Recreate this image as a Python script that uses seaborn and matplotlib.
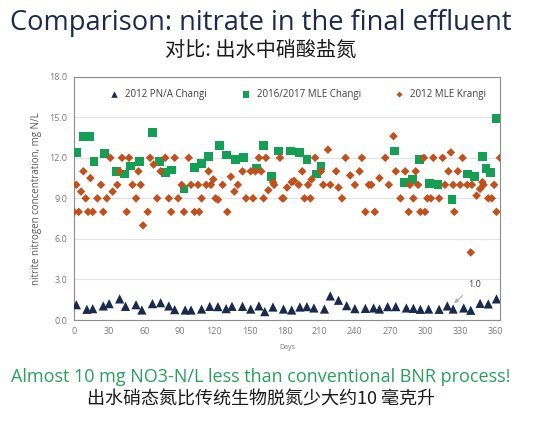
import numpy as np
import pandas as pd
import seaborn as sns
import matplotlib.pyplot as plt

# data
pna_days = [2, 11, 16, 25, 30, 39, 44, 53, 58, 67, 74, 81, 86, 95, 100, 109, 116, 123, 130, 135,
            144, 151, 158, 163, 170, 179, 186, 193, 199, 205, 214, 219, 226, 233, 240, 249, 256, 261,
            268, 275, 284, 290, 296, 303, 312, 319, 324, 333, 339, 347, 354, 361]
pna_vals = [1.13, 0.79, 0.84, 1.04, 1.21, 1.56, 1.01, 1.13, 0.74, 1.21, 1.28, 1.04, 0.77, 0.74, 0.74,
            0.81, 1.01, 0.99, 0.84, 1.01, 1.01, 0.81, 1.04, 0.62, 0.96, 0.81, 0.74, 0.96, 0.99, 0.89,
            0.81, 1.78, 1.46, 1.06, 0.84, 0.86, 0.89, 0.81, 0.99, 0.99, 0.89, 0.86, 0.79, 0.81, 0.79,
            1.04, 0.81, 0.89, 0.72, 1.23, 1.19, 1.56]

changi_days = [2, 8, 13, 17, 26, 36, 43, 48, 56, 67, 73, 78, 83, 94, 103, 109, 115, 124, 130, 138,
               145, 156, 162, 169, 175, 185, 193, 199, 207, 211, 274, 282, 289, 295, 304, 311, 323,
               336, 342, 349, 352, 356, 361]
changi_vals = [12.4, 13.6, 13.6, 11.7, 12.3, 11.0, 10.8, 11.4, 11.7, 13.9, 11.7, 10.9, 11.1, 9.7, 11.3,
               11.6, 12.1, 12.9, 12.2, 11.9, 12.0, 11.2, 12.9, 10.6, 12.5, 12.5, 12.4, 11.9, 10.8, 11.4,
               12.5, 10.2, 10.4, 11.9, 10.1, 10.0, 8.9, 10.8, 10.6, 12.1, 11.2, 10.9, 14.9]

krangi_days = [0, 2, 4, 6, 8, 10, 12, 14, 16, 20, 23, 25, 28, 31, 33, 37, 39, 41, 45, 47,
               50, 53, 55, 57, 59, 63, 65, 68, 71, 74, 78, 81, 83, 86, 89, 92, 94, 98, 100, 103,
               106, 107, 109, 113, 115, 117, 119, 121, 123, 127, 131, 134, 137, 140, 144, 147, 151, 153, 155, 158,
               160, 162, 164, 166, 170, 171, 176, 178, 179, 182, 186, 188, 192, 195, 197, 200, 202, 203, 206, 211,
               213, 217, 219, 224, 226, 229, 232, 236, 240, 244, 246, 249, 252, 254, 257, 261, 266, 269, 273, 275,
               279, 283, 286, 287, 290, 292, 294, 296, 299, 300, 302, 305, 307, 312, 315, 317, 320, 322, 324, 325,
               328, 330, 332, 336, 339, 340, 344, 347, 349, 350, 354, 357, 359, 361, 364]
krangi_vals = [8, 10, 8, 9.5, 11, 9, 8, 10.5, 8, 9, 10, 8, 9, 12, 9.5, 10, 11, 12, 8, 12,
               10, 9, 11, 10, 7, 8, 12, 11.5, 9, 11, 12, 9, 8, 12, 9, 10, 8, 12, 10, 8,
               10, 8, 9, 10, 11, 10, 10.4, 9, 8.9, 10, 8, 10.6, 9.5, 10, 11, 9, 11, 9, 11, 12,
               11, 9, 12, 9.6, 10.2, 10, 12, 9, 9, 9.8, 10.2, 10.3, 10, 11, 9, 10, 9, 10.4, 12, 11,
               10, 12.6, 10, 11, 9.8, 9, 12, 10.7, 10, 11, 12, 8, 10, 10, 8, 10.5, 12, 10, 13.6, 11,
               9, 11, 8, 10, 9, 11, 10, 8, 12, 8, 9, 9, 12, 9, 12, 10, 11, 12.4, 10, 8,
               11, 10, 12, 10, 5, 10, 9.2, 9.7, 10.2, 10, 9, 9, 10, 8, 12]

pna_label = "2012 PN/A Changi"
changi_label = "2016/2017 MLE Changi"
krangi_label = "2012 MLE Krangi"

fig = plt.figure(figsize=(5.54, 4.21), dpi=100)
sns.set_style("white")
plt.rcParams['font.family'] = ['Open Sans', 'Noto Sans CJK SC', 'DejaVu Sans']

ax = fig.add_axes([0.1336, 0.2399, 0.7689, 0.5779])

sns.scatterplot(x=pna_days, y=pna_vals, marker="^", s=44, color="#1b2a4c",
                edgecolor="none", label=pna_label, ax=ax, zorder=3)
sns.scatterplot(x=changi_days, y=changi_vals, marker="s", s=40, color="#13a055",
                edgecolor="none", label=changi_label, ax=ax, zorder=3)
sns.scatterplot(x=krangi_days, y=krangi_vals, marker="D", s=19, color="#c0501c",
                edgecolor="none", label=krangi_label, ax=ax, zorder=4)

ax.set_xlim(0, 364)
ax.set_ylim(0, 18)
ax.set_xticks(np.arange(0, 361, 30))
ax.set_yticks(np.arange(0, 18.1, 3))
ax.set_yticklabels(["%.1f" % v for v in np.arange(0, 18.1, 3)])
ax.yaxis.grid(True, color="#e3e3e3", lw=0.8)
ax.set_axisbelow(True)
for sp in ax.spines.values():
    sp.set_color("#8c8c8c")
    sp.set_linewidth(0.8)
ax.tick_params(labelsize=6.5, colors="#7a7a7a", length=0, pad=5)

ax.set_xlabel("Days", fontsize=5, color="#7a7a7a", labelpad=6)
ax.set_ylabel("nitrite nitrogen concentration, mg N/L", fontsize=7, color="#595959", labelpad=5)

ax.legend(loc="upper center", bbox_to_anchor=(0.52, 0.985), ncol=3, frameon=False,
          fontsize=7, handletextpad=0.1, columnspacing=3.0, markerscale=0.7,
          labelcolor="#404040")

ax.annotate("1.0", xy=(323, 1.1), xytext=(342, 2.6), fontsize=6.5, color="#404040",
            ha="center", va="center",
            arrowprops=dict(arrowstyle="-|>", color="#b0b0b0", lw=0.8, mutation_scale=6,
                            shrinkA=3, shrinkB=2))

fig.text(0.471, 0.945, "Comparison: nitrate in the final effluent", fontsize=19.6,
         color="#1c2b4b", ha="center", va="center")
fig.text(0.471, 0.881, "对比: 出水中硝酸盐氮", fontsize=14.5, color="#1a1a1a",
         ha="center", va="center", family=['Noto Sans CJK SC', 'DejaVu Sans'])
fig.text(0.471, 0.105, "Almost 10 mg NO3-N/L less than conventional BNR process!",
         fontsize=13, color="#2aa05e", ha="center", va="center")
fig.text(0.471, 0.05, "出水硝态氮比传统生物脱氮少大约10 毫克升", fontsize=13, color="#1a1a1a",
         ha="center", va="center", family=['Noto Sans CJK SC', 'DejaVu Sans'])

fig.savefig("out.png", dpi=100)
